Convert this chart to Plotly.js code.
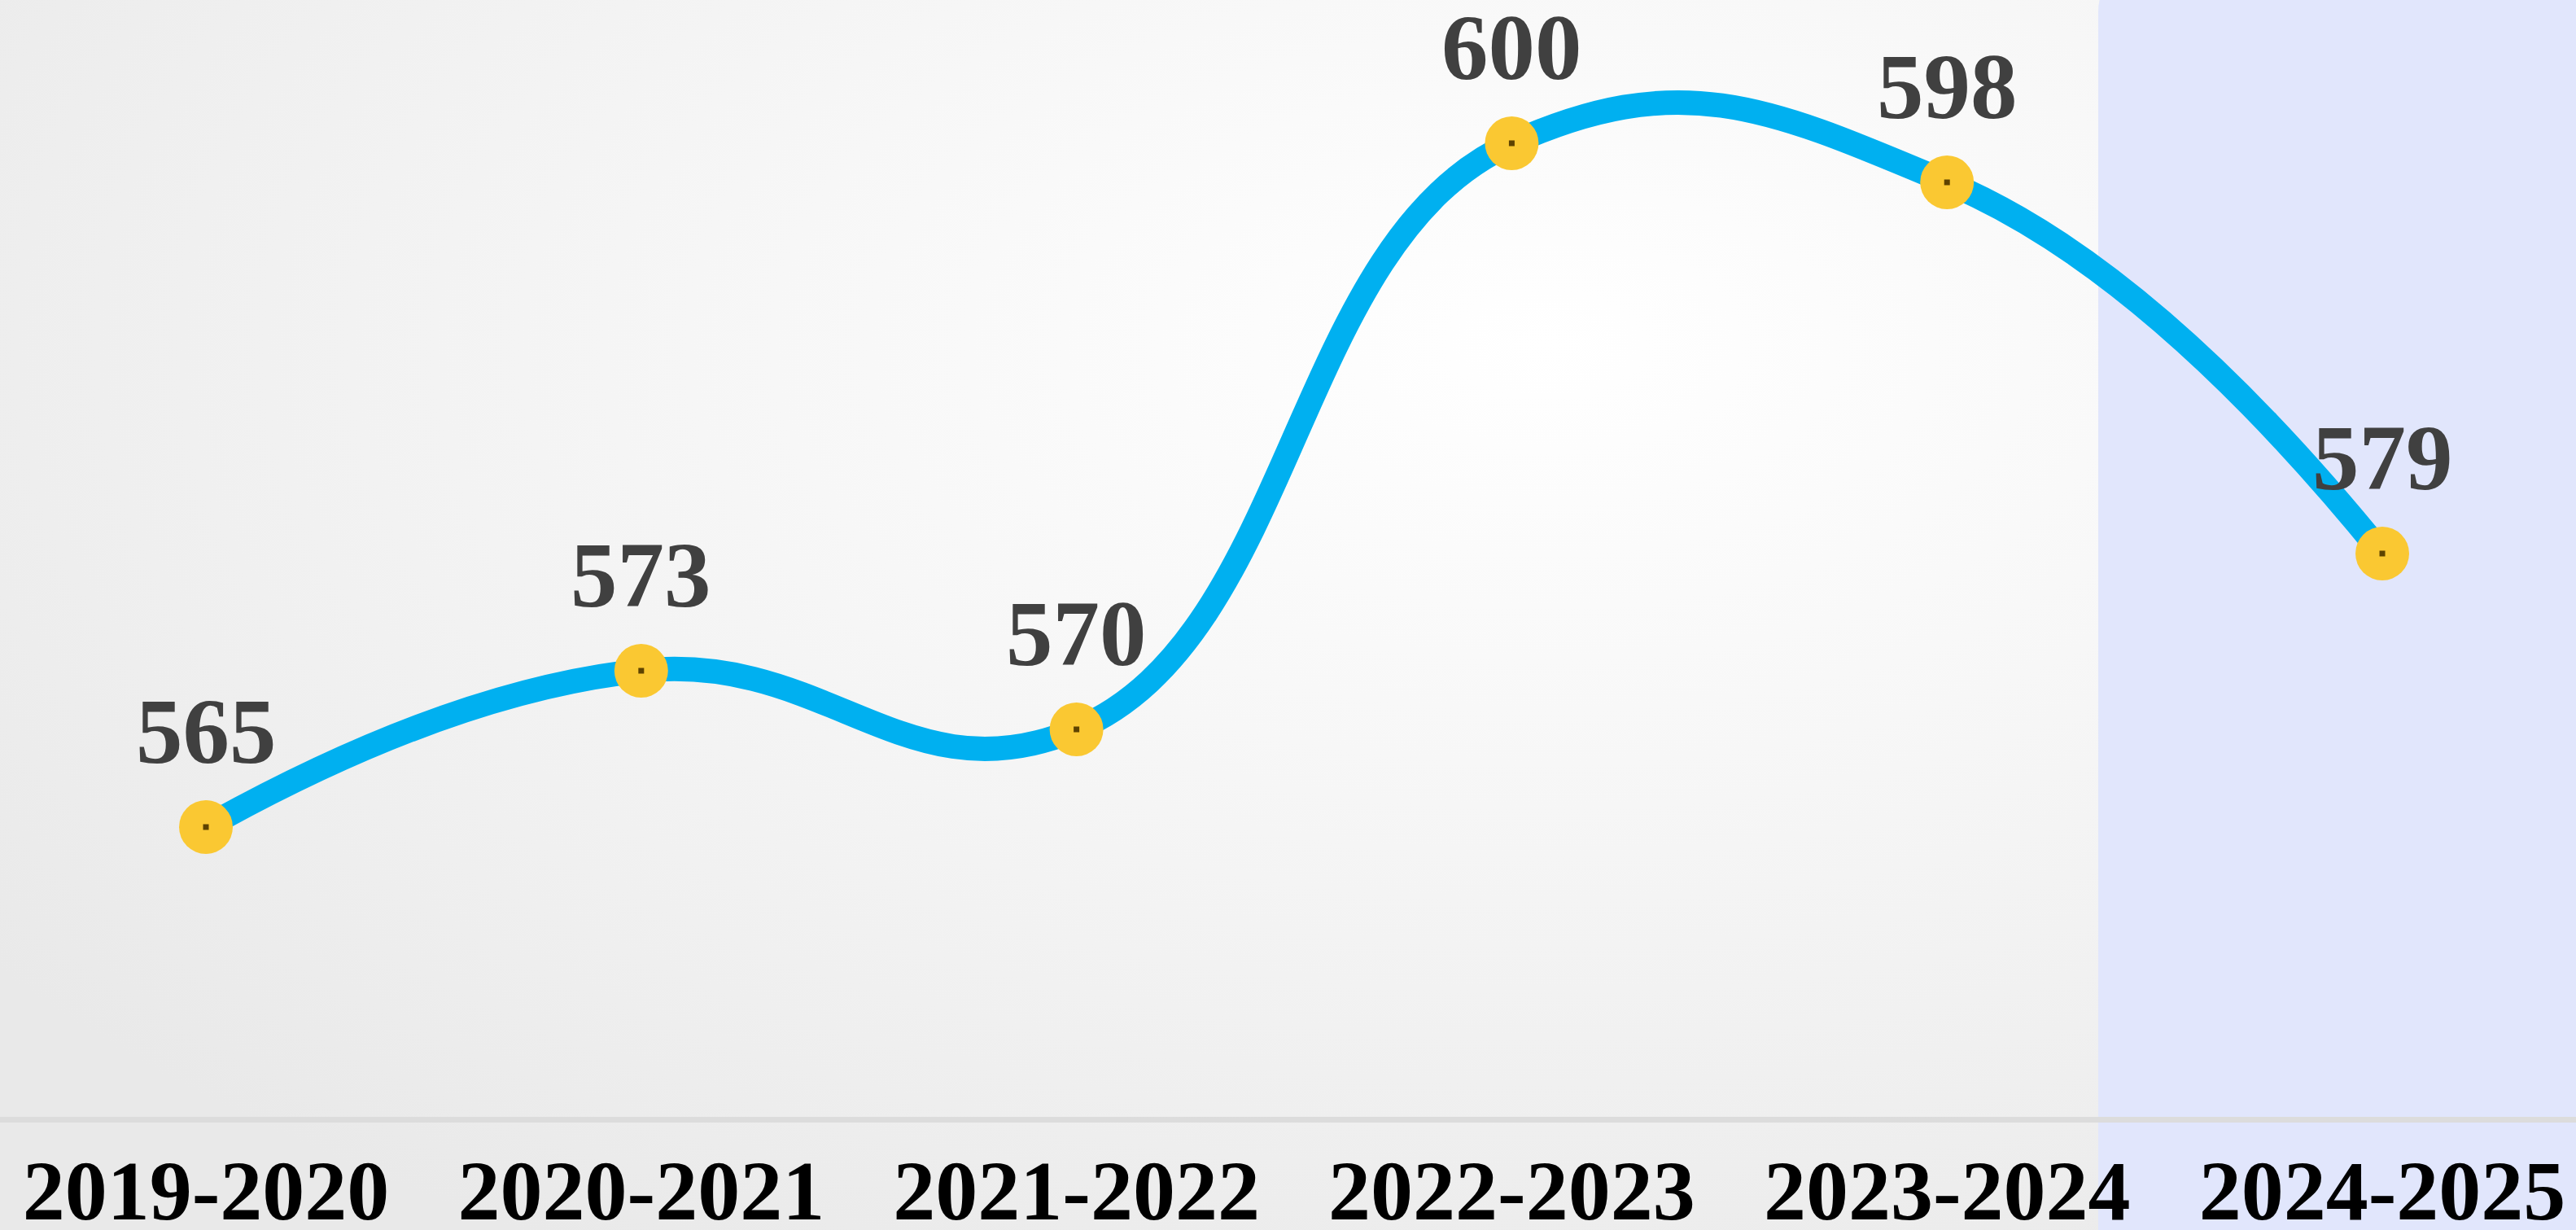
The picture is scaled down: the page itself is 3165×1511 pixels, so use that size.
<!DOCTYPE html>
<html>
<head>
<meta charset="utf-8">
<script src="https://cdn.plot.ly/plotly-3.0.1.min.js"></script>
<style>
  html, body { margin: 0; padding: 0; width: 3165px; height: 1511px; overflow: hidden; }
  #chart {
    width: 3165px; height: 1511px;
    background: radial-gradient(ellipse 75% 85% at 60% 28%, #ffffff 0%, #f7f7f7 40%, #efefef 75%, #e9e9e9 100%);
  }
</style>
</head>
<body>
<div id="chart"></div>
<script>
// ---- data ----
const categories = ["2019-2020", "2020-2021", "2021-2022", "2022-2023", "2023-2024", "2024-2025"];
const values = [565, 573, 570, 600, 598, 579];
const valueLabels = ["565", "573", "570", "600", "598", "579"];

// ---- styles ----
const lineColor = "rgb(0,176,240)";
const markerColor = "#FAC832";
const dotColor = "#5e4300";
const labelFont = { family: "Liberation Serif, Times New Roman, serif", size: 115, color: "#404040", weight: "bold" };
const tickFont = { family: "Liberation Serif, Times New Roman, serif", size: 104, color: "#000000", weight: "bold" };

const xIdx = categories.map((c, i) => i);

const traces = [
  {
    x: xIdx, y: values, type: "scatter", mode: "lines+markers",
    line: { color: lineColor, width: 30, shape: "spline", smoothing: 1.3 },
    marker: { color: markerColor, size: 66, line: { width: 0 } },
    hoverinfo: "skip", cliponaxis: false
  },
  {
    x: xIdx, y: values, type: "scatter", mode: "markers",
    marker: { color: dotColor, size: 7, symbol: "square" },
    hoverinfo: "skip", cliponaxis: false
  }
];

const annotations = values.map((v, i) => ({
  x: xIdx[i], y: v, xref: "x", yref: "y",
  text: "<b>" + valueLabels[i] + "</b>", showarrow: false,
  xanchor: "center", yanchor: "bottom", yshift: 52,
  font: labelFont
}));

// shaded forecast region (rounded top-left corner), in paper coords
const plotH = 1372, W = 3165;
const sx0 = (2578) / W;
const rx = 42 / W, ry = 42 / plotH;
const shadePath = `M ${sx0},-0.2 L ${sx0},${1 - ry + 0.02} Q ${sx0},${1 + 0.02} ${sx0 + rx},${1 + 0.02} L 1.05,${1 + 0.02} L 1.05,-0.2 Z`;

const layout = {
  width: 3165, height: 1511,
  margin: { l: 0, r: 0, t: 0, b: 1511 - plotH, pad: 0 },
  paper_bgcolor: "rgba(0,0,0,0)",
  plot_bgcolor: "rgba(0,0,0,0)",
  showlegend: false,
  xaxis: {
    range: [-0.4731, 5.445],
    tickmode: "array", tickvals: xIdx, ticktext: categories,
    showgrid: false, zeroline: false,
    showline: true, linecolor: "#dcdcdc", linewidth: 7,
    ticks: "", tickfont: tickFont, ticklabelstandoff: -6,
    fixedrange: true
  },
  yaxis: {
    range: [550.167, 607.333],
    visible: false, showgrid: false, zeroline: false, fixedrange: true
  },
  shapes: [
    { type: "path", xref: "paper", yref: "paper", path: shadePath,
      fillcolor: "#E1E6FC", line: { width: 0 }, layer: "below" }
  ],
  annotations: annotations
};

Plotly.newPlot("chart", traces, layout, { staticPlot: true, displayModeBar: false });
</script>
</body>
</html>
